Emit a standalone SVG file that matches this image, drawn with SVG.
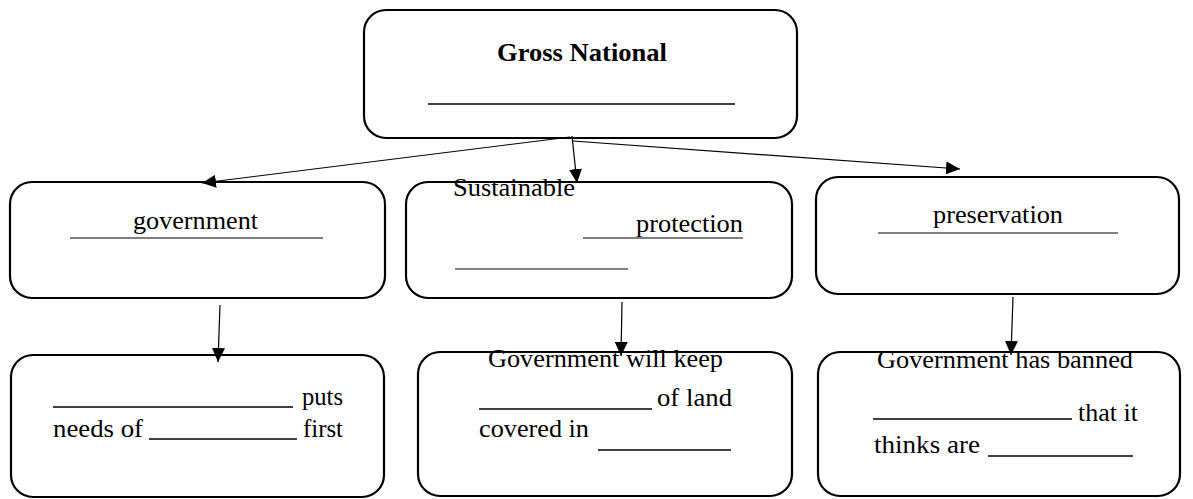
<svg xmlns="http://www.w3.org/2000/svg" width="1193" height="499" viewBox="0 0 1193 499">
<style>
.box{fill:#fff;stroke:#000;stroke-width:2.2}
.t{font-family:'Liberation Serif','Times New Roman',serif;font-size:26px;fill:#000}
.b{font-weight:bold}
.ul{stroke:#000;stroke-width:1.6}
.ut{stroke:#000;stroke-width:1}
.c{stroke:#000;stroke-width:1.2;fill:none;marker-end:url(#ah)}
</style>
<defs>
<marker id="ah" markerUnits="userSpaceOnUse" markerWidth="14" markerHeight="13" refX="14" refY="6.5" orient="auto">
<path d="M0,0 L14,6.5 L0,13 z" fill="#000"/>
</marker>
</defs>
<rect width="1193" height="499" fill="#fff"/>
<g id="top">
<rect class="box" x="364" y="10" width="433" height="128" rx="22"/>
<text class="t b" x="497" y="61" textLength="170" lengthAdjust="spacingAndGlyphs">Gross National</text>
<line class="ul" x1="428" y1="104" x2="735" y2="104"/>
</g>
<g id="gov">
<rect class="box" x="10" y="182" width="375" height="116" rx="22"/>
<text class="t" x="133" y="229" textLength="125" lengthAdjust="spacingAndGlyphs">government</text>
<line class="ut" x1="70" y1="238" x2="323" y2="238"/>
</g>
<g id="sus">
<rect class="box" x="406" y="182" width="386" height="116" rx="22"/>
<text class="t" x="453" y="196" textLength="122" lengthAdjust="spacingAndGlyphs">Sustainable</text>
<text class="t" x="636" y="232" textLength="107" lengthAdjust="spacingAndGlyphs">protection</text>
<line class="ut" x1="583" y1="238" x2="743" y2="238"/>
<line class="ut" x1="455" y1="269" x2="628" y2="269"/>
</g>
<g id="pres">
<rect class="box" x="816" y="177" width="363" height="117" rx="22"/>
<text class="t" x="933" y="223" textLength="130" lengthAdjust="spacingAndGlyphs">preservation</text>
<line class="ut" x1="878" y1="233" x2="1118" y2="233"/>
</g>
<g id="b1">
<rect class="box" x="11" y="355" width="373" height="142" rx="22"/>
<line class="ul" x1="53" y1="407" x2="293" y2="407"/>
<text class="t" x="302" y="405" textLength="41" lengthAdjust="spacingAndGlyphs">puts</text>
<text class="t" x="53" y="437" textLength="90" lengthAdjust="spacingAndGlyphs">needs of</text>
<line class="ul" x1="149" y1="439" x2="297" y2="439"/>
<text class="t" x="303" y="437" textLength="40" lengthAdjust="spacingAndGlyphs">first</text>
</g>
<g id="b2">
<rect class="box" x="418" y="352" width="374" height="144" rx="22"/>
<text class="t" x="488" y="367" textLength="235" lengthAdjust="spacingAndGlyphs">Government will keep</text>
<line class="ul" x1="479" y1="409" x2="652" y2="409"/>
<text class="t" x="657" y="406" textLength="75" lengthAdjust="spacingAndGlyphs">of land</text>
<text class="t" x="479" y="437" textLength="110" lengthAdjust="spacingAndGlyphs">covered in</text>
<line class="ul" x1="598" y1="450" x2="731" y2="450"/>
</g>
<g id="b3">
<rect class="box" x="818" y="352" width="362" height="144" rx="22"/>
<text class="t" x="877" y="368" textLength="256" lengthAdjust="spacingAndGlyphs">Government has banned</text>
<line class="ul" x1="873" y1="419" x2="1072" y2="419"/>
<text class="t" x="1078" y="421" textLength="60" lengthAdjust="spacingAndGlyphs">that it</text>
<text class="t" x="874" y="453" textLength="106" lengthAdjust="spacingAndGlyphs">thinks are</text>
<line class="ul" x1="988" y1="456" x2="1133" y2="456"/>
</g>
<g id="connectors">
<line class="c" x1="570" y1="137" x2="202" y2="183"/>
<line class="c" x1="572" y1="136" x2="577" y2="183"/>
<line class="c" x1="573" y1="141" x2="960" y2="169"/>
<line class="c" x1="220" y1="305" x2="218" y2="362"/>
<line class="c" x1="622" y1="302" x2="621" y2="356"/>
<line class="c" x1="1013" y1="297" x2="1011" y2="355"/>
</g>
</svg>
